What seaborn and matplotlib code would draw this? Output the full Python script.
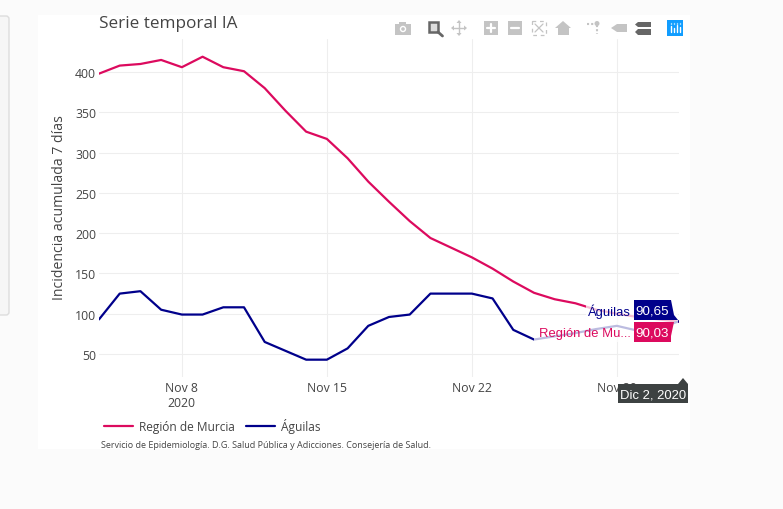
import matplotlib
matplotlib.use('Agg')
import matplotlib.pyplot as plt
from matplotlib.patches import Rectangle, Polygon, Circle, FancyBboxPatch
import seaborn as sns
import pandas as pd

W, H = 783, 510

dias = pd.date_range('2020-11-04', '2020-12-02')
murcia = [398, 408, 410, 415, 406, 419, 406, 401, 380, 352, 326, 317, 293, 264, 239,
          215, 194, 182, 170, 156, 140, 126, 118, 113, 105, 100, 96, 93, 90.03]
aguilas = [93, 125, 128, 105, 99, 99, 108, 108, 65, 54, 43, 43, 57, 85, 96,
           99, 125, 125, 125, 119, 80, 68, 72, 76, 81, 85, 79, 82, 90.65]
ticks_y = [50, 100, 150, 200, 250, 300, 350, 400]
ticks_x = ['2020-11-08', '2020-11-15', '2020-11-22', '2020-11-29']
labels_x = ['Nov 8\n2020', 'Nov 15', 'Nov 22', 'Nov 29']

ROJO = '#dc0a5e'
AZUL = '#00008b'
TEXTO = '#444444'
GRIS = '#c4c4c4'

sns.set_theme(style='white')
plt.rcParams['font.family'] = ['Open Sans', 'DejaVu Sans']

df = pd.concat([
    pd.DataFrame({'dia': dias, 'IA': murcia, 'zona': 'Región de Murcia'}),
    pd.DataFrame({'dia': dias, 'IA': aguilas, 'zona': 'Águilas'}),
])

fig = plt.figure(figsize=(W / 100, H / 100), dpi=100, facecolor='#fbfbfb')

# capa en pixeles para fondo, barra de herramientas y etiquetas
bg = fig.add_axes([0, 0, 1, 1], zorder=0)
bg.set_xlim(0, W)
bg.set_ylim(H, 0)
bg.axis('off')
bg.add_patch(Rectangle((38, 16), 652, 434, fc='white', ec='none'))
bg.add_patch(FancyBboxPatch((-8, 17), 17, 299, boxstyle='round,pad=0,rounding_size=3',
                            fc='#f6f6f6', ec='#dddddd', lw=1))

ax = fig.add_axes([99 / W, 1 - 378 / H, (679 - 99) / W, (378 - 40) / H], zorder=1)
ax.patch.set_alpha(0)
paleta = {'Región de Murcia': ROJO, 'Águilas': AZUL}
sns.lineplot(data=df, x='dia', y='IA', hue='zona', palette=paleta, lw=1.6, ax=ax)

ax.set_xlim(dias[0], dias[-1])
ax.set_ylim(21.5, 441)
ax.set_yticks(ticks_y)
ax.set_xticks(pd.to_datetime(ticks_x))
ax.set_xticklabels(labels_x)
ax.grid(True, color='#eeeeee', lw=0.75)
ax.set_axisbelow(True)
sns.despine(ax=ax, left=True, bottom=True, top=True, right=True)
ax.tick_params(axis='both', length=0, labelsize=8.8, labelcolor=TEXTO)
ax.tick_params(axis='x', pad=3)
ax.tick_params(axis='y', pad=2)
ax.set_xlabel('')
ax.set_ylabel('Incidencia acumulada 7 días', fontsize=10.1, color=TEXTO, labelpad=0)
ax.yaxis.set_label_coords((67 - 99) / 580, 0.503)

sns.move_legend(ax, 'center left', bbox_to_anchor=(104 / W, 1 - 427 / H), bbox_transform=fig.transFigure,
                ncol=2, frameon=False, title=None, fontsize=8.6, labelcolor=TEXTO, handlelength=2.4,
                columnspacing=1.0, handletextpad=0.5, borderpad=0, borderaxespad=0)

# capa superior
top = fig.add_axes([0, 0, 1, 1], zorder=2)
top.set_xlim(0, W)
top.set_ylim(H, 0)
top.axis('off')
top.text(99, 24.5, 'Serie temporal IA', fontsize=12.3, color=TEXTO, va='center')
top.text(101, 445.5, 'Servicio de Epidemiología. D.G. Salud Pública y Adicciones. Consejería de Salud.',
         fontsize=6.52, color=TEXTO, va='center')

# el hover tapa a medias las lineas
top.add_patch(Rectangle((586, 301), 92, 21, fc='white', alpha=0.74, ec='none'))
top.add_patch(Rectangle((534, 322), 144, 21, fc='white', alpha=0.74, ec='none'))

# etiquetas del hover
hover = ['Liberation Sans', 'DejaVu Sans']
top.add_patch(Polygon([(634, 301), (671, 301), (674, 316), (678, 321), (634, 321)], fc=AZUL, ec='none'))
top.add_patch(Polygon([(634, 323), (674, 323), (671, 337), (671, 343), (634, 343)], fc=ROJO, ec='none'))
top.text(652.5, 311.8, '90,65', color='white', fontsize=9.6, ha='center', va='center', family=hover)
top.text(652.5, 334, '90,03', color='white', fontsize=9.6, ha='center', va='center', family=hover)
top.text(631, 311.8, 'Águilas', color=AZUL, fontsize=9.4, ha='right', va='center', family=hover)
top.text(631, 334, 'Región de Mu...', color=ROJO, fontsize=9.4, ha='right', va='center', family=hover)

# etiqueta de la fecha
top.add_patch(Polygon([(618, 385), (678, 385), (683, 379), (688, 385), (688, 404), (618, 404)],
                      fc='#3d4242', ec='none'))
top.text(653, 395.3, 'Dic 2, 2020', color='white', fontsize=9.4, ha='center', va='center',
         family=hover)

# barra de herramientas
top.add_patch(Rectangle((395, 25), 16, 11, fc=GRIS, ec='none'))
top.add_patch(Rectangle((399, 23), 7, 3, fc=GRIS, ec='none'))
top.add_patch(Circle((403, 30), 3.2, fc='white', ec='none'))
top.add_patch(Circle((403, 30), 1.8, fc=GRIS, ec='none'))
top.add_patch(Rectangle((428.5, 23), 9.5, 9.5, fc='#dddddd', ec='#666666', lw=1.8))
top.plot([438, 442.5], [33, 37], color='#666666', lw=2)
top.plot([453, 465], [29, 29], color=GRIS, lw=1)
top.plot([459, 459], [23, 35], color=GRIS, lw=1)
for flecha in [[(451, 29), (454, 26.5), (454, 31.5)], [(467, 29), (464, 26.5), (464, 31.5)],
               [(459, 21), (456.5, 24), (461.5, 24)], [(459, 37), (456.5, 34), (461.5, 34)]]:
    top.add_patch(Polygon(flecha, fc=GRIS, ec='none'))
top.add_patch(Rectangle((484, 22), 14, 14, fc=GRIS, ec='none'))
top.plot([487, 495], [29, 29], color='white', lw=1.6)
top.plot([491, 491], [25, 33], color='white', lw=1.6)
top.add_patch(Rectangle((508, 22), 14, 14, fc=GRIS, ec='none'))
top.plot([511, 519], [29, 29], color='white', lw=1.6)
top.add_patch(Rectangle((532, 22), 14, 14, fc='none', ec=GRIS, lw=0.9, ls=(0, (3, 3))))
top.plot([535, 543], [25, 33], color=GRIS, lw=0.9)
top.plot([535, 543], [33, 25], color=GRIS, lw=0.9)
top.add_patch(Polygon([(555, 29), (563, 22), (571, 29), (569, 29), (569, 36), (558, 36), (558, 29)],
                      fc=GRIS, ec='none'))
top.plot([587, 595], [24.5, 24.5], color=GRIS, lw=1.5, ls=(0, (1, 1)))
top.plot([597, 597], [26, 35], color=GRIS, lw=1.5, ls=(0, (1, 1)))
top.add_patch(Circle((597, 24.5), 2.5, fc=GRIS, ec='none'))
top.add_patch(Polygon([(611, 29), (617, 25), (627, 25), (627, 33), (617, 33)], fc=GRIS, ec='none'))
top.add_patch(Polygon([(635, 25.5), (638, 23), (651, 23), (651, 28), (638, 28)], fc='#666666', ec='none'))
top.add_patch(Polygon([(635, 33), (638, 30), (651, 30), (651, 36), (638, 36)], fc='#666666', ec='none'))
top.add_patch(Rectangle((667, 21), 16, 16, fc='#119dff', ec='none'))
for xb, alto in [(670.5, 6), (673.5, 4), (676.5, 7), (679.5, 5)]:
    top.plot([xb, xb], [33, 33 - alto], color='white', lw=1)
    top.plot([xb, xb], [24, 25], color='#9fdcff', lw=1)

fig.savefig('out.png', dpi=100, facecolor=fig.get_facecolor())
